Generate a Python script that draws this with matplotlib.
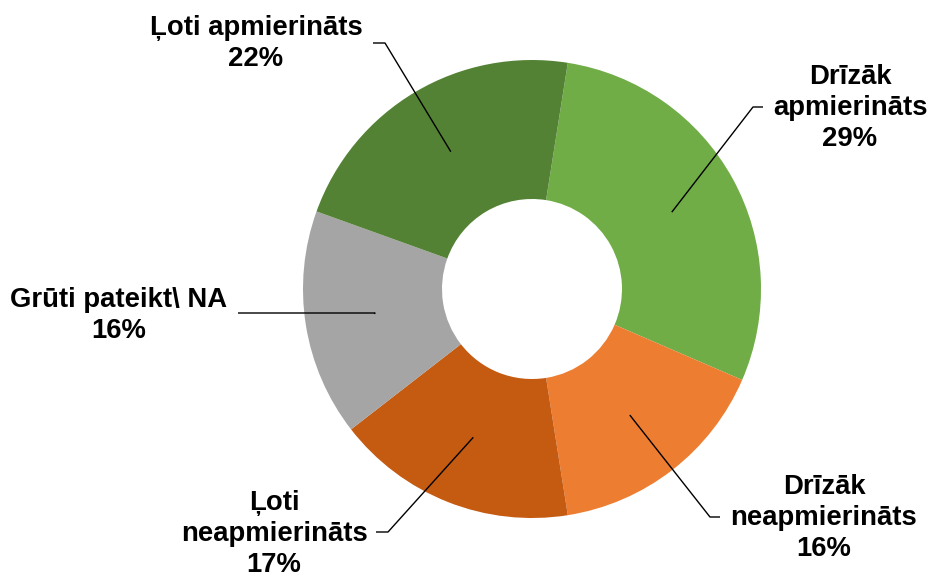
import numpy as np
import matplotlib
matplotlib.use("Agg")
import matplotlib.pyplot as plt

plt.rcParams['font.family'] = ['Liberation Sans', 'DejaVu Sans']

# Survey answers, clockwise from the top
categories = ["Drīzāk\napmierināts", "Drīzāk\nneapmierināts", "Ļoti\nneapmierināts",
              "Grūti pateikt\\ NA", "Ļoti apmierināts"]
values = [29, 16, 17, 16, 22]
colors = ["#70AD47", "#ED7D31", "#C55A11", "#A5A5A5", "#548235"]

W, H, DPI = 931, 573, 100
CX, CY, R = 532, 289, 229          # ring centre / outer radius in pixels
HOLE = 90 / R

def px(x, y):
    """pixel position (from top-left) -> data coords of the ring axes"""
    return (x - CX) / R, (CY - y) / R

fig = plt.figure(figsize=(W / DPI, H / DPI), dpi=DPI)
ax = fig.add_axes([0, 0, 1, 1])
wedges, _ = ax.pie(values, colors=colors, startangle=81, counterclock=False,
                   radius=1.0, wedgeprops=dict(width=1 - HOLE, linewidth=0))
ax.set_xlim(-CX / R, (W - CX) / R)
ax.set_ylim(-(H - CY) / R, CY / R)
ax.axis('off')

# label block centre and elbow of leader line (pixels), per slice
label_pos = [(850, 108), (824, 518), (274, 534), (119, 315), (256, 43)]
elbows = [((763, 107), (753, 107)),
          ((720, 517), (710, 517)),
          ((376, 532), (388, 532)),
          ((238, 313), (375, 313)),
          ((373, 43), (385, 43))]

mid_r = (1 + HOLE) / 2
for w, lab, v, pos, (e0, e1) in zip(wedges, categories, values, label_pos, elbows):
    ang = np.deg2rad((w.theta1 + w.theta2) / 2)
    tip = (mid_r * np.cos(ang), mid_r * np.sin(ang))
    p0, p1 = px(*e0), px(*e1)
    ax.plot([p0[0], p1[0], tip[0]], [p0[1], p1[1], tip[1]],
            color='black', lw=1.0, solid_capstyle='butt')
    tx, ty = px(*pos)
    ax.text(tx, ty, f"{lab}\n{v}%", ha='center', va='center', ma='center',
            fontsize=19.8, fontweight='bold', linespacing=1.25, color='black')

fig.savefig("out.png", dpi=DPI)
